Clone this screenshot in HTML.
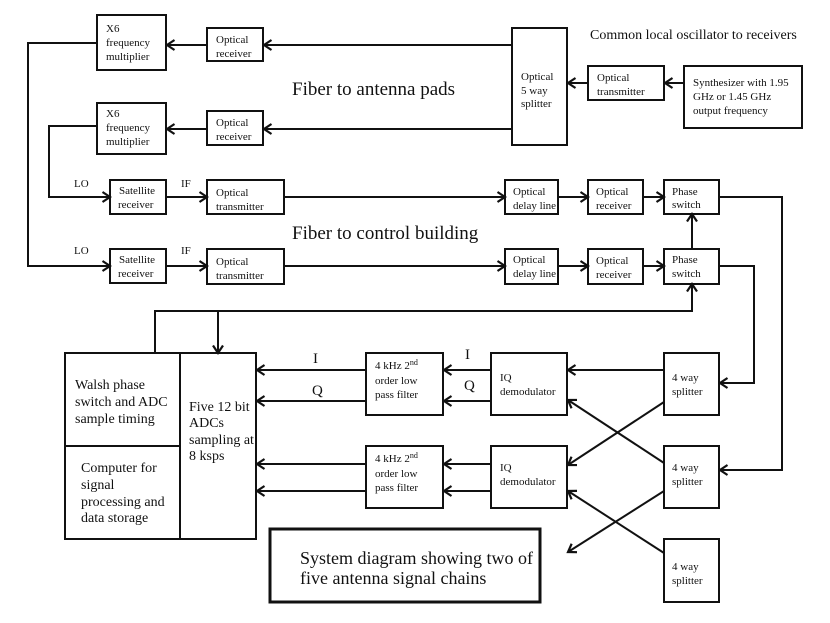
<!DOCTYPE html>
<html><head><meta charset="utf-8"><style>
html,body{margin:0;padding:0;background:#fff}
svg{display:block}
text{font-family:"Liberation Serif",serif;fill:#111}
.s{font-size:11px}
.b{font-size:19px}
.m{font-size:14px}
</style></head><body>
<svg width="830" height="623" viewBox="0 0 830 623" xmlns="http://www.w3.org/2000/svg">
<defs>
<marker id="a" markerWidth="12" markerHeight="12" refX="9" refY="6" orient="auto" markerUnits="userSpaceOnUse">
<polyline points="1.5,1 9,6 1.5,11" fill="none" stroke="#111" stroke-width="2.2"/>
</marker>
</defs>
<g fill="#fff" stroke="#111" stroke-width="2">
<rect x="97" y="15" width="69" height="55"/>
<rect x="207" y="28" width="56" height="33"/>
<rect x="97" y="103" width="69" height="51"/>
<rect x="207" y="111" width="56" height="34"/>
<rect x="110" y="180" width="56" height="34"/>
<rect x="207" y="180" width="77" height="34"/>
<rect x="110" y="249" width="56" height="34"/>
<rect x="207" y="249" width="77" height="35"/>
<rect x="512" y="28" width="55" height="117"/>
<rect x="588" y="66" width="76" height="34"/>
<rect x="684" y="66" width="118" height="62"/>
<rect x="505" y="180" width="53" height="34"/>
<rect x="588" y="180" width="55" height="34"/>
<rect x="664" y="180" width="55" height="34"/>
<rect x="505" y="249" width="53" height="35"/>
<rect x="588" y="249" width="55" height="35"/>
<rect x="664" y="249" width="55" height="35"/>
<rect x="65" y="353" width="115" height="186"/>
<line x1="65" y1="446" x2="180" y2="446"/>
<rect x="180" y="353" width="76" height="186"/>
<rect x="366" y="353" width="77" height="62"/>
<rect x="366" y="446" width="77" height="62"/>
<rect x="491" y="353" width="76" height="62"/>
<rect x="491" y="446" width="76" height="62"/>
<rect x="664" y="353" width="55" height="62"/>
<rect x="664" y="446" width="55" height="62"/>
<rect x="664" y="539" width="55" height="63"/>
<rect x="270" y="529" width="270" height="73" stroke-width="3"/>
</g>
<g fill="none" stroke="#111" stroke-width="2" marker-end="url(#a)">
<line x1="512" y1="45" x2="264" y2="45"/>
<line x1="207" y1="45" x2="167" y2="45"/>
<line x1="512" y1="129" x2="264" y2="129"/>
<line x1="207" y1="129" x2="167" y2="129"/>
<line x1="588" y1="83" x2="568" y2="83"/>
<line x1="684" y1="83" x2="665" y2="83"/>
<polyline points="97,43 28,43 28,266 110,266"/>
<polyline points="97,126 49,126 49,197 110,197"/>
<line x1="166" y1="197" x2="207" y2="197"/>
<line x1="166" y1="266" x2="207" y2="266"/>
<line x1="284" y1="197" x2="505" y2="197"/>
<line x1="284" y1="266" x2="505" y2="266"/>
<line x1="558" y1="197" x2="588" y2="197"/>
<line x1="558" y1="266" x2="588" y2="266"/>
<line x1="643" y1="197" x2="664" y2="197"/>
<line x1="643" y1="266" x2="664" y2="266"/>
<line x1="692" y1="249" x2="692" y2="214"/>
<polyline points="719,197 782,197 782,470 720,470"/>
<polyline points="719,266 754,266 754,383 720,383"/>
<polyline points="155,353 155,311 692,311 692,284"/>
<line x1="218" y1="311" x2="218" y2="353"/>
<line x1="366" y1="370" x2="257" y2="370"/>
<line x1="366" y1="401" x2="257" y2="401"/>
<line x1="366" y1="464" x2="257" y2="464"/>
<line x1="366" y1="491" x2="257" y2="491"/>
<line x1="491" y1="370" x2="444" y2="370"/>
<line x1="491" y1="401" x2="444" y2="401"/>
<line x1="491" y1="464" x2="444" y2="464"/>
<line x1="491" y1="491" x2="444" y2="491"/>
<line x1="664" y1="370" x2="568" y2="370"/>
<line x1="664" y1="402" x2="568" y2="465"/>
<line x1="664" y1="463" x2="568" y2="400"/>
<line x1="664" y1="491" x2="568" y2="552"/>
<line x1="664" y1="553" x2="568" y2="491"/>
</g>
<g class="s">
<text x="106" y="32">X6</text><text x="106" y="46">frequency</text><text x="106" y="60">multiplier</text>
<text x="216" y="43">Optical</text><text x="216" y="57">receiver</text>
<text x="106" y="117">X6</text><text x="106" y="131">frequency</text><text x="106" y="145">multiplier</text>
<text x="216" y="126">Optical</text><text x="216" y="140">receiver</text>
<text x="119" y="194">Satellite</text><text x="118" y="208">receiver</text>
<text x="216" y="196">Optical</text><text x="216" y="210">transmitter</text>
<text x="119" y="263">Satellite</text><text x="118" y="277">receiver</text>
<text x="216" y="265">Optical</text><text x="216" y="279">transmitter</text>
<text x="74" y="187">LO</text><text x="181" y="187">IF</text>
<text x="74" y="254">LO</text><text x="181" y="254">IF</text>
<text x="521" y="80">Optical</text><text x="521" y="94">5 way</text><text x="521" y="107">splitter</text>
<text x="597" y="81">Optical</text><text x="597" y="95">transmitter</text>
<text x="693" y="86">Synthesizer with 1.95</text><text x="693" y="100">GHz or 1.45 GHz</text><text x="693" y="114">output frequency</text>
<text x="513" y="195">Optical</text><text x="513" y="209">delay line</text>
<text x="596" y="195">Optical</text><text x="596" y="209">receiver</text>
<text x="672" y="195">Phase</text><text x="672" y="208">switch</text>
<text x="513" y="263">Optical</text><text x="513" y="277">delay line</text>
<text x="596" y="264">Optical</text><text x="596" y="278">receiver</text>
<text x="672" y="263">Phase</text><text x="672" y="277">switch</text>
<text x="375" y="369">4 kHz 2<tspan font-size="8" dy="-4">nd</tspan></text><text x="375" y="384">order low</text><text x="375" y="398">pass filter</text>
<text x="375" y="462">4 kHz 2<tspan font-size="8" dy="-4">nd</tspan></text><text x="375" y="477">order low</text><text x="375" y="491">pass filter</text>
<text x="500" y="381">IQ</text><text x="500" y="395">demodulator</text>
<text x="500" y="471">IQ</text><text x="500" y="485">demodulator</text>
<text x="672" y="381">4 way</text><text x="672" y="395">splitter</text>
<text x="672" y="471">4 way</text><text x="672" y="485">splitter</text>
<text x="672" y="570">4 way</text><text x="672" y="584">splitter</text>
</g>
<g class="m">
<text x="313" y="363" font-size="15">I</text><text x="312" y="395" font-size="15">Q</text>
<text x="465" y="359" font-size="15">I</text><text x="464" y="390" font-size="15">Q</text>
<text x="590" y="39">Common local oscillator to receivers</text>
<text x="75" y="389">Walsh phase</text><text x="75" y="406">switch and ADC</text><text x="75" y="423">sample timing</text>
<text x="81" y="472">Computer for</text><text x="81" y="489">signal</text><text x="81" y="506">processing and</text><text x="81" y="522">data storage</text>
<text x="189" y="411">Five 12 bit</text><text x="189" y="427">ADCs</text><text x="189" y="444">sampling at</text><text x="189" y="460">8 ksps</text>
</g>
<g class="b">
<text x="292" y="95">Fiber to antenna pads</text>
<text x="292" y="239">Fiber to control building</text>
<text x="300" y="564" font-size="18">System diagram showing two of</text>
<text x="300" y="584" font-size="18">five antenna signal chains</text>
</g>
</svg>
</body></html>
